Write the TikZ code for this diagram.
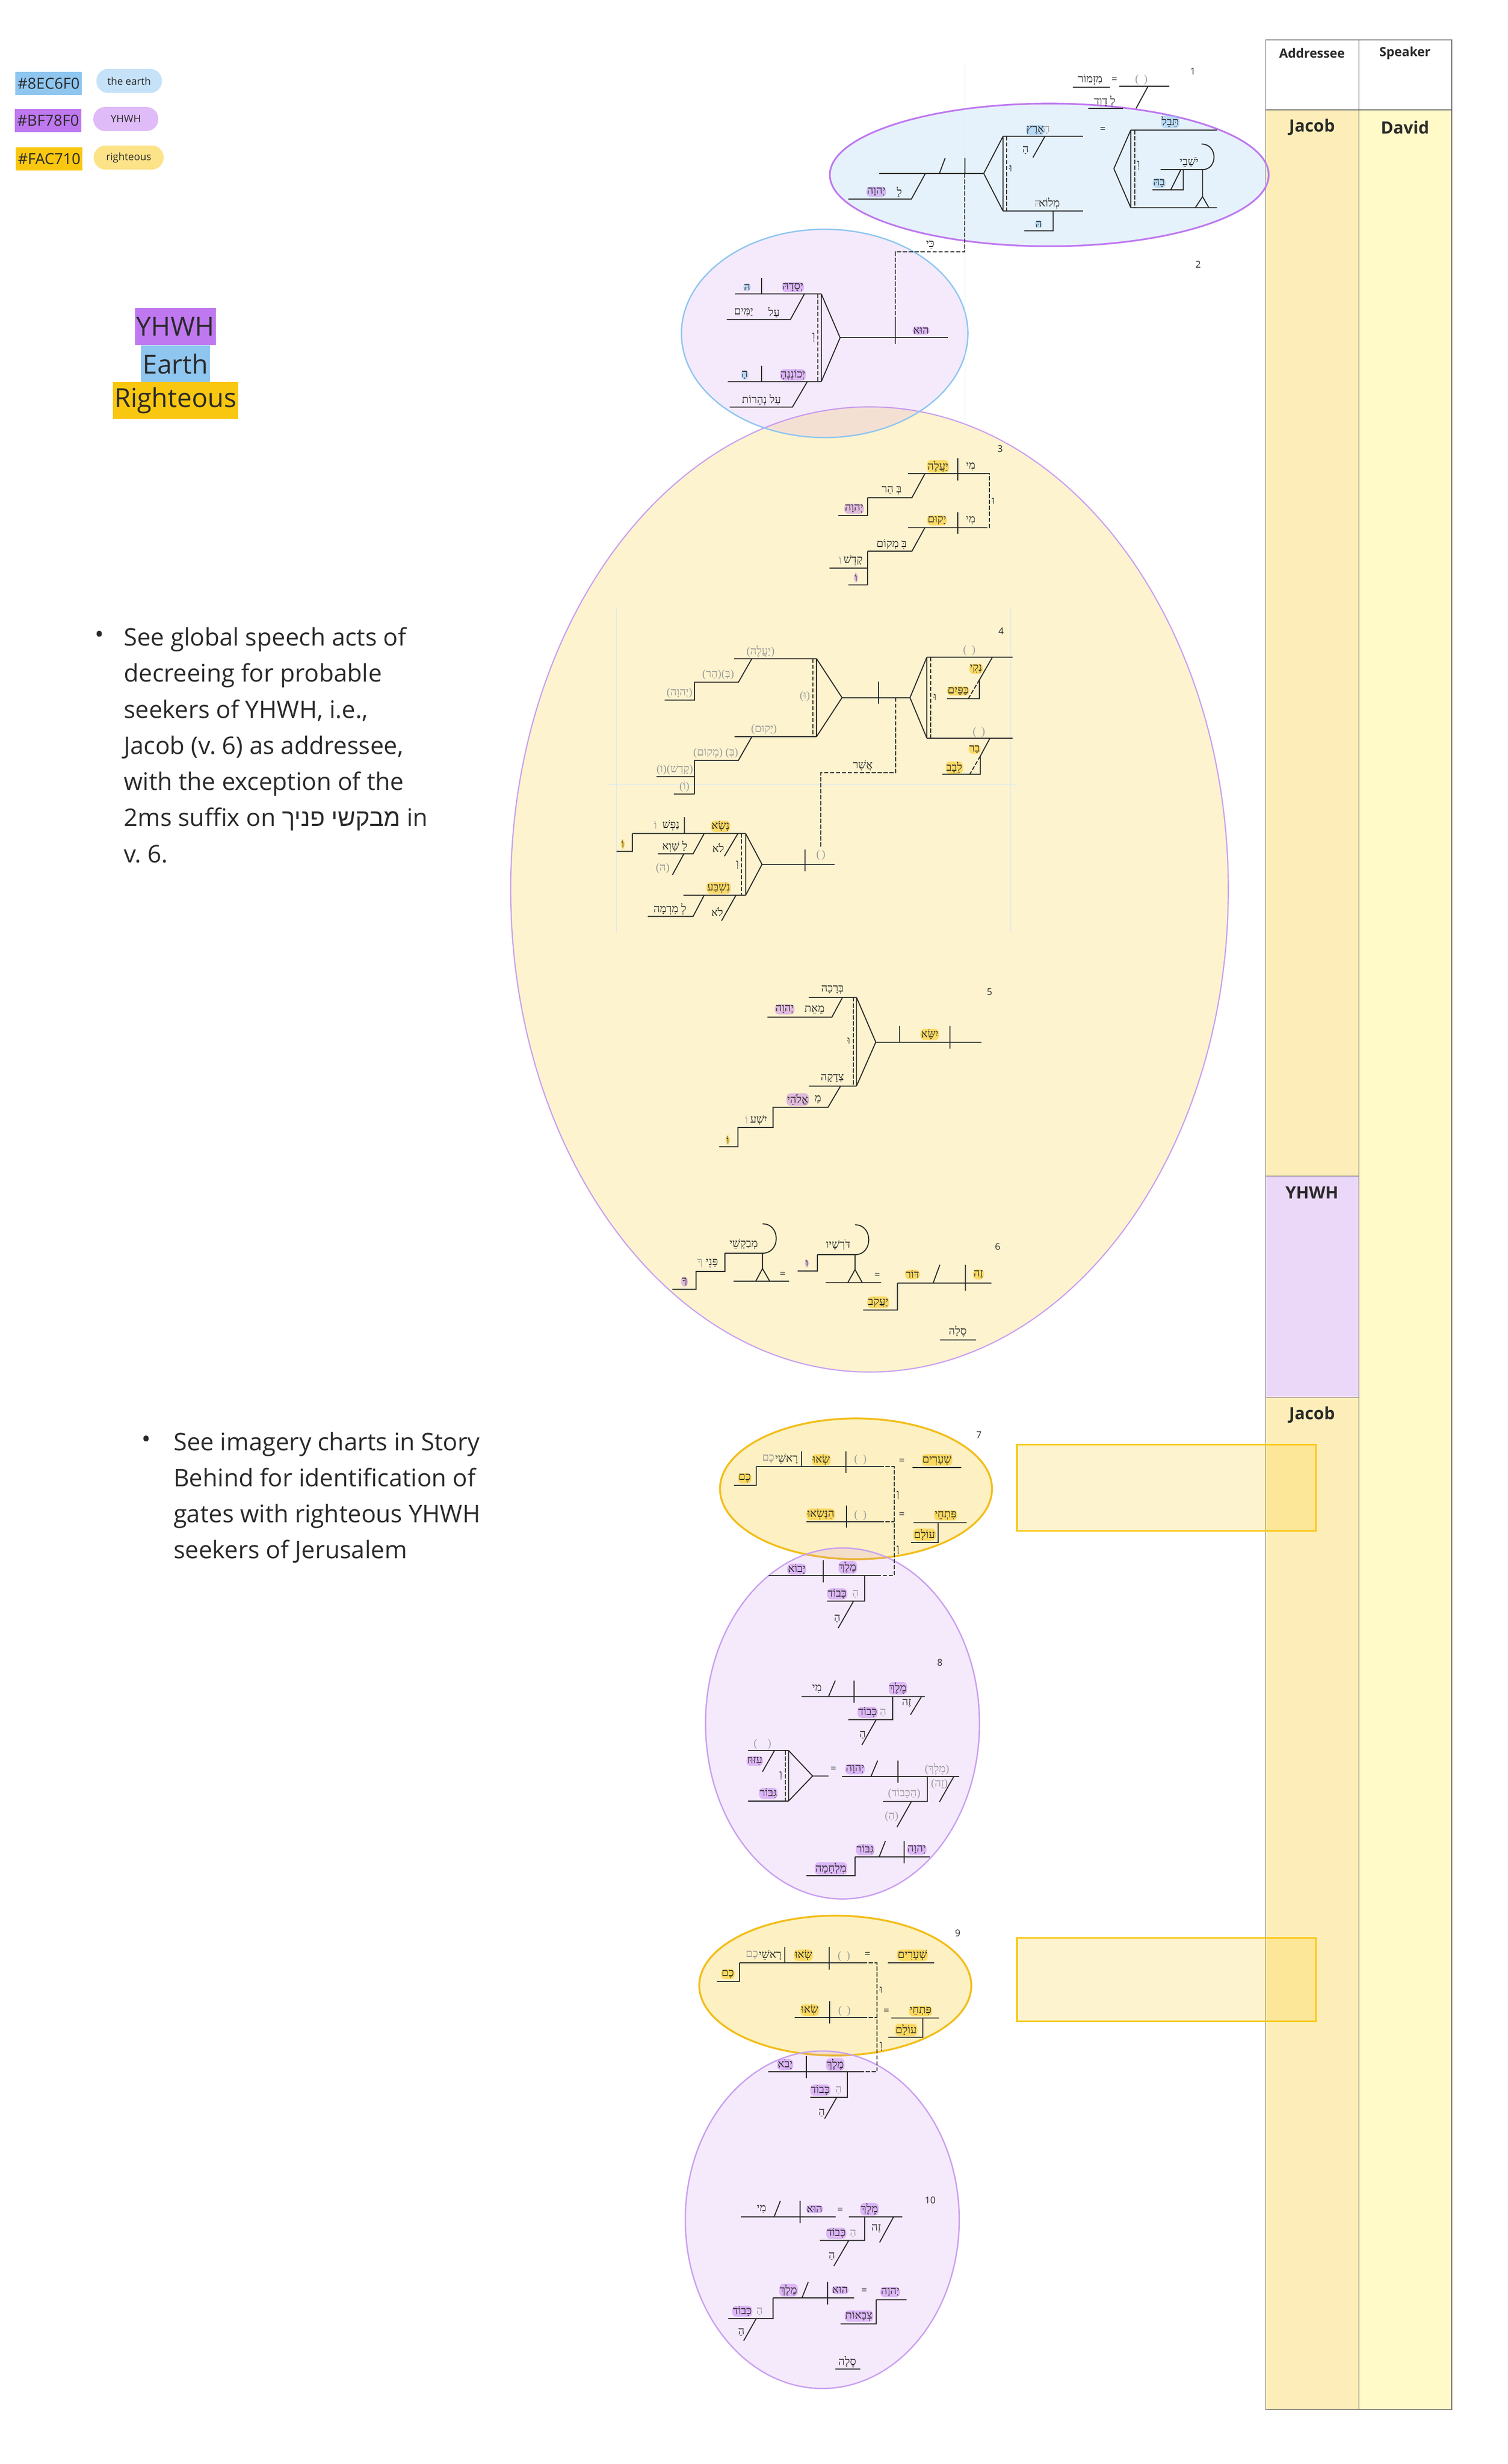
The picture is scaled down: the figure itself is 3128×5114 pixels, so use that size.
\documentclass[tikz,border=0pt]{standalone}
\usepackage{fontspec}
\setmainfont{Open Sans}
\newfontfamily\hebfont[Script=Hebrew]{Liberation Serif}
\newfontfamily\hebsans[Script=Hebrew]{Liberation Sans}
\newfontfamily\parfont{Liberation Serif}
\usetikzlibrary{positioning}
\TeXXeTstate=1
\definecolor{earthc}{HTML}{8EC6F0}
\definecolor{yhwhc}{HTML}{BF78F0}
\definecolor{rightc}{HTML}{FAC710}
\definecolor{ink}{HTML}{2A2A2A}
\definecolor{jacobc}{HTML}{FDEEB9}
\definecolor{davidc}{HTML}{FFFAC8}
\definecolor{yhwhcell}{HTML}{EBD7F8}
\definecolor{rimc}{HTML}{C9A0F0}
\definecolor{goldc}{HTML}{F2BE1A}
\newcommand{\hb}[1]{\beginR#1\endR}
\newcommand{\gap}[1]{{\parfont(\hspace{#1})}}
\newcommand{\pw}[1]{{\parfont(}\hb{#1}{\parfont)}}

\begin{document}
\begin{tikzpicture}[x=0.01cm, y=-0.01cm, line width=0.6pt, color=ink,
    heb/.style={font=\hebfont\fontsize{6.5}{7}\selectfont, inner sep=0.6pt},
    gry/.style={heb, text=black!40},
    hlp/.style={heb, fill=yhwhc, fill opacity=0.45, text opacity=1, rounded corners=2.5pt, inner sep=0.4pt},
    hlb/.style={heb, fill=earthc, fill opacity=0.5, text opacity=1, rounded corners=2.5pt, inner sep=0.4pt},
    hly/.style={heb, fill=rightc, fill opacity=0.55, text opacity=1, rounded corners=2.5pt, inner sep=0.4pt},
    eqs/.style={font=\fontsize{6}{7}\selectfont, inner sep=0.6pt},
    dsh/.style={dash pattern=on 2.5pt off 1pt},
    vnum/.style={font=\fontsize{5.5}{6.5}\selectfont, inner sep=0.5pt},
    guide/.style={draw=earthc!40, line width=0.3pt},
    head/.style={font=\bfseries\fontsize{7.5}{9}\selectfont},
    cell/.style={font=\bfseries\fontsize{10}{12}\selectfont},
    hex/.style={font=\fontsize{9}{10}\selectfont, minimum height=0.48cm, minimum width=1.38cm, inner xsep=1pt},
    pill/.style={font=\fontsize{6}{7}\selectfont, rounded corners=7pt, minimum height=0.5cm},
    key/.style={font=\fontsize{15.5}{18}\selectfont, minimum height=0.765cm, inner xsep=1pt, inner ysep=0pt},
    note/.style={font=\fontsize{14.3}{21.3}\selectfont, align=left, anchor=north west, inner sep=0pt}]
  \fill[white] (0,0) rectangle (3128,5114);
  \useasboundingbox (0,0) rectangle (3128,5114);

  \node[hex, fill=earthc] (hexE) at (101,173) {\#8EC6F0};
  \node[hex, fill=yhwhc] (hexP) at (100,250) {\#BF78F0};
  \node[hex, fill=rightc] (hexR) at (102,330) {\#FAC710};
  \node[pill, fill=earthc!50, minimum width=1.36cm] (pillE) at (268,168) {the earth};
  \node[pill, fill=yhwhc!50, minimum width=1.35cm] (pillP) at (261,247) {YHWH};
  \node[pill, fill=rightc!50, minimum width=1.45cm] (pillR) at (267,327) {righteous};

  \node[key, fill=yhwhc] (keyP) at (364,678) {YHWH};
  \node[key, fill=earthc] (keyE) at (364,755) {Earth};
  \node[key, fill=rightc] (keyR) at (364,831) {Righteous};

  \node[font=\fontsize{14.3}{16}\selectfont] (dot1) at (206,1322) {•};
  \node[note] (note1) at (256,1301) {See global speech acts of\\decreeing for probable\\seekers of YHWH, i.e.,\\Jacob (v.~6) as addressee,\\with the exception of the\\2ms suffix on {\hebsans\hb{מבקשי פניך}} in\\v.~6.};
  \node[font=\fontsize{14.3}{16}\selectfont] (dot2) at (303,2992) {•};
  \node[note] (note2) at (359,2971) {See imagery charts in Story\\Behind for identification of\\gates with righteous YHWH\\seekers of Jerusalem};

  \fill[jacobc] (2626,228) rectangle (2819,2441);
  \fill[yhwhcell] (2626,2441) rectangle (2819,2900);
  \fill[jacobc] (2626,2900) rectangle (2819,5001);
  \fill[davidc] (2819,228) rectangle (3012,5001);
  \draw[black!60, line width=0.4pt] (2626,83) rectangle (3012,5001) (2819,83) -- (2819,5001)
    (2626,228) -- (3012,228) (2626,2441) -- (2819,2441) (2626,2900) -- (2819,2900);
  \node[head] (hAddr) at (2722,110) {Addressee};
  \node[head] (hSpk) at (2915,110) {Speaker};
  \node[cell] (cJacob1) at (2722,264) {Jacob};
  \node[cell] (cDavid) at (2915,264) {David};
  \node[cell] (cYHWH) at (2722,2475) {YHWH};
  \node[cell] (cJacob2) at (2722,2936) {Jacob};
  \draw[rightc, line width=0.9pt, fill=rightc, fill opacity=0.2] (2110,2998) rectangle (2730,3177);
  \draw[rightc, line width=0.9pt, fill=rightc, fill opacity=0.2] (2110,4022) rectangle (2730,4195);

  \draw[rimc, line width=0.7pt, fill=rightc, fill opacity=0.2] (1804,1846) ellipse [x radius=7.44cm, y radius=10.01cm];
  \draw[yhwhc, line width=1pt, fill=earthc, fill opacity=0.22] (2177,363) ellipse [x radius=4.55cm, y radius=1.48cm];
  \draw[earthc, line width=0.8pt, fill=yhwhc, fill opacity=0.15] (1711,692) ellipse [x radius=2.97cm, y radius=2.16cm];
  \draw[goldc, line width=1.1pt, fill=rightc, fill opacity=0.25] (1776,3090) ellipse [x radius=2.82cm, y radius=1.46cm];
  \draw[rimc, line width=0.8pt, fill=yhwhc, fill opacity=0.15] (1748,3577) ellipse [x radius=2.84cm, y radius=3.64cm];
  \draw[goldc, line width=1.1pt, fill=rightc, fill opacity=0.25] (1733,4121) ellipse [x radius=2.82cm, y radius=1.45cm];
  \draw[rimc, line width=0.8pt, fill=yhwhc, fill opacity=0.15] (1706,4607) ellipse [x radius=2.84cm, y radius=3.50cm];

  \draw[guide] (2002,130) -- (2002,896);
  \draw[guide] (1279,1261) -- (1279,1935) (2097,1261) -- (2097,1935) (1259,1629) -- (2110,1629);

  % v1
  \node[vnum] (n1) at (2475,148) {1};
  \draw (2226,181) -- (2303,181) (2322,179) -- (2426,179) (2382,179) -- (2357,225) (2258,225) -- (2330,225);
  \node[heb] (v1miz) at (2262,166) {\hb{מִזְמוֹר}};
  \node[eqs] (v1eq0) at (2312,166) {=};
  \node[gry] (v1p0) at (2368,166) {\gap{3pt}};
  \node[heb] (v1david) at (2292,210) {\hb{לְ דָוִד}};
  \draw (1824,360) -- (2041,360) (2002,328) -- (2002,360) (1961,328) -- (1949,360)
    (1920,360) -- (1891,413) -- (1760,413);
  \draw[dsh] (2002,360) -- (2002,523) -- (1857,523) -- (1857,662);
  \node[heb] (v1la) at (1866,398) {\hb{לַ}};
  \node[hlp] (v1yhwh) at (1818,398) {\hb{יְהוָה}};
  \draw (2081,283) -- (2041,360) -- (2081,438) (2081,283) -- (2081,438);
  \draw[dsh] (2089,283) -- (2089,438);
  \node[heb] (v1w1) at (2097,350) {\hb{וּ}};
  \draw (2081,283) -- (2247,283) (2168,283) -- (2143,327) (2081,438) -- (2247,438)
    (2185,438) -- (2185,479) -- (2125,479);
  \node[hlb] (v1eretz) at (2148,270) {\hb{אָרֶץ}};
  \node[gry] (v1ha1) at (2172,270) {\hb{הָ}};
  \node[heb] (v1ha2) at (2128,312) {\hb{הָ}};
  \node[heb] (v1melo) at (2177,422) {\hb{מְלוֹא}};
  \node[gry] (v1h1) at (2153,422) {\hb{הּ}};
  \node[hlb] (v1h2) at (2155,465) {\hb{הּ}};
  \node[eqs] (v1eq1) at (2288,269) {=};
  \draw (2346,270) -- (2311,350) -- (2346,431) (2346,270) -- (2346,431)
    (2346,270) -- (2525,270) (2346,431) -- (2525,431);
  \draw[dsh] (2354,270) -- (2354,431);
  \node[heb] (v1w2) at (2362,343) {\hb{וְ}};
  \node[hlb] (v1tevel) at (2428,253) {\hb{תֵּבֵל}};
  \draw (2408,352) -- (2495,352) .. controls (2527,352) and (2527,299) .. (2493,299);
  \draw (2495,352) -- (2495,408) -- (2480,431) (2495,408) -- (2508,431);
  \node[heb] (v1yoshve) at (2467,337) {\hb{יֹשְׁבֵי}};
  \draw (2455,352) -- (2455,394) -- (2391,394) (2450,352) -- (2429,394);
  \node[hlb] (v1bah) at (2405,380) {\hb{בָהּ}};
  \node[heb] (v1ki) at (1930,508) {\hb{כִּי}};

  % v2
  \node[vnum] (n2) at (2486,549) {2};
  \draw (1743,701) -- (1967,701) (1857,662) -- (1857,714);
  \node[hlp] (v2hu) at (1911,686) {\hb{הוּא}};
  \draw (1704,610) -- (1743,701) -- (1704,792) (1704,610) -- (1704,792);
  \draw[dsh] (1697,610) -- (1697,792);
  \node[heb] (v2w) at (1688,700) {\hb{וְ}};
  \draw (1525,610) -- (1704,610) (1580,577) -- (1580,610) (1669,610) -- (1640,663) -- (1508,663);
  \node[hlp] (v2yesada) at (1645,596) {\hb{יְסָדָהּ}};
  \node[hlb] (v2h) at (1550,596) {\hb{הּ}};
  \node[heb] (v2al1) at (1606,648) {\hb{עַל}};
  \node[heb] (v2yamim) at (1543,648) {\hb{יַמִּים}};
  \draw (1510,792) -- (1704,792) (1580,759) -- (1580,792) (1675,792) -- (1644,845) -- (1514,845);
  \node[hlp] (v2yekonen) at (1645,778) {\hb{יְכוֹנְנֶהָ}};
  \node[hlb] (v2ha) at (1545,778) {\hb{הָ}};
  \node[heb] (v2nehar) at (1580,830) {\hb{עַל נְהָרוֹת}};

  % v3
  \node[vnum] (n3) at (2075,932) {3};
  \draw (1884,983) -- (2046,983) (1987,951) -- (1987,997) (1919,983) -- (1892,1033) -- (1800,1033)
    (1800,1033) -- (1800,1070) -- (1739,1070);
  \draw[dsh] (2046,983) -- (2053,983) -- (2053,1095) -- (2046,1095);
  \node[heb] (v3w) at (2061,1040) {\hb{וּ}};
  \node[heb] (v3mi1) at (2014,968) {\hb{מִי}};
  \node[hly] (v3yaale) at (1946,968) {\hb{יַעֲלֶה}};
  \node[heb] (v3behar) at (1850,1018) {\hb{בְּ הַר}};
  \node[hlp] (v3yhwh) at (1772,1056) {\hb{יְהוָה}};
  \draw (1884,1095) -- (2046,1095) (1987,1063) -- (1987,1108) (1919,1095) -- (1892,1144) -- (1800,1144)
    (1800,1144) -- (1800,1214) (1721,1179) -- (1800,1179) (1760,1214) -- (1800,1214);
  \node[heb] (v3mi2) at (2014,1080) {\hb{מִי}};
  \node[hly] (v3yakum) at (1944,1080) {\hb{יָקוּם}};
  \node[heb] (v3bimkom) at (1850,1130) {\hb{בִּ מְקוֹם}};
  \node[heb] (v3kodsh) at (1770,1163) {\hb{קָדְשׁ}};
  \node[gry] (v3o1) at (1743,1163) {\hb{וֹ}};
  \node[hlp] (v3o2) at (1776,1199) {\hb{וֹ}};

  % v4
  \node[vnum] (n4) at (2077,1310) {4};
  \draw (1523,1367) -- (1694,1367) (1560,1367) -- (1532,1416) -- (1441,1416) -- (1441,1453) -- (1379,1453);
  \node[gry] (v4yaale) at (1578,1352) {\pw{יַעֲלֶה}};
  \node[gry] (v4behar) at (1490,1400) {\pw{הַר}\pw{בְּ}};
  \node[gry] (v4yhwh) at (1410,1438) {\pw{יְהוָה}};
  \draw (1524,1529) -- (1694,1529) (1560,1529) -- (1532,1578) -- (1441,1578) -- (1441,1648)
    (1362,1612) -- (1441,1612) (1398,1648) -- (1441,1648);
  \node[gry] (v4yakum) at (1585,1514) {\pw{יָקוּם}};
  \node[gry] (v4bimkom) at (1485,1563) {\pw{מְקוֹם} \pw{בִּ}};
  \node[gry] (v4kodsh) at (1400,1597) {\pw{וֹ}\pw{קָדְשׁ}};
  \node[gry] (v4o1) at (1420,1633) {\pw{וֹ}};
  \draw (1694,1367) -- (1747,1448) -- (1694,1529) (1694,1367) -- (1694,1529);
  \draw[dsh] (1687,1367) -- (1687,1529);
  \node[gry] (v4w1) at (1670,1445) {\pw{וּ}};
  \draw (1747,1448) -- (1888,1448) (1823,1415) -- (1823,1461);
  \draw[dsh] (1858,1448) -- (1858,1604) -- (1703,1604) -- (1703,1759);
  \node[heb] (v4asher) at (1790,1589) {\hb{אֲשֶׁר}};
  \draw (1923,1364) -- (1888,1448) -- (1923,1532) (1923,1364) -- (1923,1532);
  \draw[dsh] (1931,1364) -- (1931,1532);
  \node[heb] (v4w2) at (1940,1447) {\hb{וּ}};
  \draw (1923,1364) -- (2101,1364) (2059,1364) -- (2032,1411) -- (2032,1450) -- (1965,1450);
  \draw[dsh] (2032,1411) -- (2009,1450);
  \node[gry] (v4p1) at (2011,1350) {\gap{3pt}};
  \node[hly] (v4neki) at (2025,1388) {\hb{נְקִי}};
  \node[hly] (v4kapayim) at (1988,1434) {\hb{כַּפַּיִם}};
  \draw (1923,1532) -- (2101,1532) (2054,1532) -- (2034,1569) -- (2034,1607) -- (1955,1607);
  \draw[dsh] (2034,1569) -- (2012,1607);
  \node[gry] (v4p2) at (2031,1520) {\gap{3pt}};
  \node[hly] (v4bar) at (2022,1555) {\hb{בַר}};
  \node[hly] (v4levav) at (1980,1593) {\hb{לֵבָב}};
  \draw (1581,1794) -- (1732,1794) (1670,1763) -- (1670,1808);
  \node[gry] (v4p3) at (1703,1775) {\gap{1pt}};
  \draw (1547,1730) -- (1581,1794) -- (1547,1858) (1547,1730) -- (1547,1858);
  \draw[dsh] (1538,1730) -- (1538,1858);
  \node[heb] (v4w3) at (1530,1795) {\hb{וְ}};
  \draw (1312,1730) -- (1547,1730) (1420,1696) -- (1420,1730) (1312,1730) -- (1312,1767) -- (1279,1767)
    (1531,1730) -- (1503,1777) (1461,1730) -- (1438,1772) -- (1365,1772) (1419,1772) -- (1395,1816);
  \node[hly] (v4nasa) at (1495,1715) {\hb{נָשָׂא}};
  \node[heb] (v4nafsh) at (1392,1713) {\hb{נַפְשׁ}};
  \node[gry] (v4o2) at (1360,1713) {\hb{וֹ}};
  \node[hly] (v4o3) at (1292,1752) {\hb{וֹ}};
  \node[heb] (v4lo1) at (1490,1760) {\hb{לֹא}};
  \node[heb] (v4lashav) at (1400,1757) {\hb{לַ שָּׁוְא}};
  \node[gry] (v4h) at (1375,1802) {\pw{הּ}};
  \draw (1418,1858) -- (1547,1858) (1527,1858) -- (1497,1911) (1461,1858) -- (1438,1902) -- (1344,1902);
  \node[hly] (v4nishba) at (1491,1843) {\hb{נִשְׁבַּע}};
  \node[heb] (v4lo2) at (1488,1893) {\hb{לֹא}};
  \node[heb] (v4mirma) at (1390,1887) {\hb{לְ מִרְמָה}};

  % v5
  \node[vnum] (n5) at (2053,2059) {5};
  \draw (1678,2070) -- (1777,2070) (1748,2070) -- (1726,2111) -- (1592,2111);
  \node[heb] (v5beracha) at (1727,2054) {\hb{בְּרָכָה}};
  \node[heb] (v5meet) at (1690,2095) {\hb{מֵאֵת}};
  \node[hlp] (v5yhwh) at (1628,2095) {\hb{יְהוָה}};
  \draw (1678,2254) -- (1777,2254) (1744,2254) -- (1718,2298) -- (1604,2298) -- (1604,2340) -- (1531,2340)
    -- (1531,2380) -- (1492,2380);
  \node[heb] (v5tsedaka) at (1727,2238) {\hb{צְדָקָה}};
  \node[heb] (v5me) at (1697,2282) {\hb{מֵ}};
  \node[hlp] (v5elohe) at (1655,2282) {\hb{אֱלֹהֵי}};
  \node[heb] (v5yisha) at (1574,2324) {\hb{יִשְׁע}};
  \node[gry] (v5o1) at (1549,2324) {\hb{וֹ}};
  \node[hly] (v5o2) at (1510,2366) {\hb{וֹ}};
  \draw (1777,2070) -- (1817,2163) -- (1777,2254) (1777,2070) -- (1777,2254);
  \draw[dsh] (1770,2070) -- (1770,2254);
  \node[heb] (v5w) at (1761,2160) {\hb{וּ}};
  \draw (1817,2163) -- (2036,2163) (1867,2129) -- (1867,2163) (1971,2129) -- (1971,2176);
  \node[hly] (v5yisa) at (1929,2147) {\hb{יִשָּׂא}};

  % v6
  \node[vnum] (n6) at (2070,2587) {6};
  \draw (1862,2663) -- (2057,2663) (2003,2625) -- (2003,2679) (1950,2625) -- (1936,2663)
    (1862,2663) -- (1862,2719) -- (1791,2719) (1950,2781) -- (2025,2781);
  \node[hly] (v6ze) at (2030,2645) {\hb{זֶה}};
  \node[hly] (v6dor) at (1893,2645) {\hb{דּוֹר}};
  \node[hly] (v6yaakov) at (1822,2703) {\hb{יַעֲקֹב}};
  \node[heb] (v6sela) at (1987,2763) {\hb{סֶלָה}};
  \node[eqs] (v6eq1) at (1820,2647) {=};
  \draw (1713,2662) -- (1828,2662) (1774,2604) -- (1774,2635) -- (1759,2662) (1774,2635) -- (1789,2662)
    (1696,2604) -- (1774,2604) .. controls (1812,2604) and (1812,2542) .. (1774,2542)
    (1696,2604) -- (1696,2638) -- (1655,2638);
  \node[heb] (v6dorshav) at (1739,2584) {\hb{דֹּרְשָׁיו}};
  \node[hlp] (v6w) at (1674,2622) {\hb{ו}};
  \node[eqs] (v6eq2) at (1624,2645) {=};
  \draw (1522,2659) -- (1637,2659) (1582,2601) -- (1582,2633) -- (1568,2659) (1582,2633) -- (1597,2659)
    (1504,2601) -- (1582,2601) .. controls (1620,2601) and (1620,2540) .. (1582,2540)
    (1504,2601) -- (1504,2639) -- (1444,2639) -- (1444,2676) -- (1395,2676);
  \node[heb] (v6mevakshe) at (1543,2582) {\hb{מְבַקְשֵׁי}};
  \node[heb] (v6pane) at (1477,2622) {\hb{פָּנֶי}};
  \node[gry] (v6kha1) at (1452,2622) {\hb{ךָ}};
  \node[hlp] (v6kha2) at (1420,2660) {\hb{ךָ}};

  % v7
  \node[vnum] (n7) at (2031,2978) {7};
  \draw (1569,3044) -- (1825,3044) (1755,3012) -- (1755,3057) (1663,3012) -- (1663,3044)
    (1569,3044) -- (1569,3083) -- (1523,3083) (1893,3046) -- (1994,3046);
  \draw[dsh] (1825,3044) -- (1855,3044) -- (1855,3270) -- (1825,3270) (1825,3158) -- (1855,3158);
  \node[gry] (v7p1) at (1785,3030) {\gap{3pt}};
  \node[hly] (v7seu) at (1704,3030) {\hb{שְׂאוּ}};
  \node[heb] (v7roshe) at (1632,3028) {\hb{רָאשֵׁי}};
  \node[gry] (v7khem1) at (1594,3028) {\hb{כֶם}};
  \node[hly] (v7khem2) at (1545,3068) {\hb{כֶם}};
  \node[eqs] (v7eq1) at (1871,3033) {=};
  \node[hly] (v7shearim) at (1944,3030) {\hb{שְׁעָרִים}};
  \draw (1673,3158) -- (1825,3158) (1756,3125) -- (1756,3171);
  \node[gry] (v7p2) at (1785,3145) {\gap{3pt}};
  \node[hly] (v7hinnasu) at (1703,3143) {\hb{הִנָּשְׂאוּ}};
  \node[eqs] (v7eq2) at (1871,3145) {=};
  \draw (1895,3160) -- (2006,3160) (1946,3160) -- (1946,3201) -- (1890,3201);
  \node[hly] (v7pitche) at (1962,3145) {\hb{פִּתְחֵי}};
  \node[hly] (v7olam) at (1918,3185) {\hb{עוֹלָם}};
  \node[heb] (v7w1) at (1863,3103) {\hb{וְ}};
  \node[heb] (v7w2) at (1863,3217) {\hb{וְ}};
  \draw (1595,3270) -- (1825,3270) (1708,3238) -- (1708,3284) (1794,3270) -- (1794,3323) -- (1716,3323)
    (1771,3323) -- (1739,3379);
  \node[hlp] (v7yavo) at (1653,3257) {\hb{יָבוֹא}};
  \node[hlp] (v7melekh) at (1759,3253) {\hb{מֶלֶךְ}};
  \node[hlp] (v7kavod) at (1737,3308) {\hb{כָּבוֹד}};
  \node[gry] (v7ha1) at (1775,3308) {\hb{הַ}};
  \node[heb] (v7ha2) at (1737,3359) {\hb{הַ}};

  % v8
  \node[vnum] (n8) at (1950,3451) {8};
  \draw (1663,3521) -- (1919,3521) (1772,3488) -- (1772,3534) (1733,3488) -- (1719,3521)
    (1912,3521) -- (1889,3559) (1852,3521) -- (1852,3569) -- (1760,3569) (1818,3569) -- (1788,3622);
  \node[heb] (v8mi) at (1695,3505) {\hb{מִי}};
  \node[hlp] (v8melekh) at (1863,3504) {\hb{מֶלֶךְ}};
  \node[heb] (v8ze) at (1881,3535) {\hb{זֶה}};
  \node[hlp] (v8kavod) at (1800,3554) {\hb{כָּבוֹד}};
  \node[gry] (v8ha1) at (1832,3554) {\hb{הַ}};
  \node[heb] (v8ha2) at (1790,3600) {\hb{הַ}};
  \draw (1552,3633) -- (1636,3633) (1607,3633) -- (1582,3677) (1552,3738) -- (1636,3738)
    (1636,3633) -- (1636,3738) (1636,3633) -- (1686,3686) -- (1636,3738) (1686,3686) -- (1719,3686);
  \draw[dsh] (1629,3633) -- (1629,3738);
  \node[gry] (v8p) at (1582,3620) {\gap{6pt}};
  \node[hlp] (v8ezuz) at (1566,3655) {\hb{עִזּוּז}};
  \node[hlp] (v8gibbor1) at (1594,3722) {\hb{גִּבּוֹר}};
  \node[heb] (v8w) at (1620,3685) {\hb{וְ}};
  \node[eqs] (v8eq) at (1729,3672) {=};
  \draw (1747,3687) -- (1990,3687) (1863,3654) -- (1863,3700) (1821,3654) -- (1807,3687)
    (1979,3687) -- (1949,3740) (1924,3687) -- (1924,3739) -- (1832,3739) (1891,3739) -- (1861,3792);
  \node[hlp] (v8yhwh1) at (1774,3672) {\hb{יְהוָה}};
  \node[gry] (v8melekh2) at (1944,3672) {\pw{מֶלֶךְ}};
  \node[gry] (v8ze2) at (1949,3703) {\pw{זֶה}};
  \node[gry] (v8hakavod) at (1876,3723) {\pw{הַכָּבוֹד}};
  \node[gry] (v8ha3) at (1850,3770) {\pw{הַ}};
  \draw (1774,3854) -- (1929,3854) (1876,3821) -- (1876,3867) (1837,3821) -- (1824,3854)
    (1774,3854) -- (1774,3893) -- (1673,3893);
  \node[hlp] (v8yhwh2) at (1902,3839) {\hb{יְהוָה}};
  \node[hlp] (v8gibbor2) at (1795,3839) {\hb{גִּבּוֹר}};
  \node[hlp] (v8milchama) at (1724,3878) {\hb{מִלְחָמָה}};

  % v9
  \node[vnum] (n9) at (1987,4012) {9};
  \draw (1534,4074) -- (1790,4074) (1720,4041) -- (1720,4088) (1628,4041) -- (1628,4074)
    (1534,4074) -- (1534,4113) -- (1487,4113) (1842,4074) -- (1938,4074);
  \draw[dsh] (1790,4074) -- (1820,4074) -- (1820,4300) -- (1790,4300) (1790,4187) -- (1820,4187);
  \node[gry] (v9p1) at (1751,4061) {\gap{3pt}};
  \node[hly] (v9seu1) at (1667,4058) {\hb{שְׂאוּ}};
  \node[heb] (v9roshe) at (1598,4058) {\hb{רָאשֵׁי}};
  \node[gry] (v9khem1) at (1560,4058) {\hb{כֶם}};
  \node[hly] (v9khem2) at (1510,4097) {\hb{כֶם}};
  \node[eqs] (v9eq1) at (1800,4057) {=};
  \node[hly] (v9shearim) at (1893,4058) {\hb{שְׁעָרִים}};
  \draw (1649,4187) -- (1790,4187) (1721,4154) -- (1721,4200);
  \node[gry] (v9p2) at (1752,4174) {\gap{3pt}};
  \node[hly] (v9seu2) at (1680,4172) {\hb{שְׂאוּ}};
  \node[eqs] (v9eq2) at (1839,4174) {=};
  \draw (1849,4188) -- (1948,4188) (1915,4188) -- (1915,4228) -- (1843,4228);
  \node[hly] (v9pitche) at (1910,4174) {\hb{פִּתְחֵי}};
  \node[hly] (v9olam) at (1880,4213) {\hb{עוֹלָם}};
  \node[heb] (v9w1) at (1828,4130) {\hb{וּ}};
  \node[heb] (v9w2) at (1828,4247) {\hb{וְ}};
  \draw (1594,4300) -- (1790,4300) (1673,4267) -- (1673,4313) (1758,4300) -- (1758,4353) -- (1681,4353)
    (1736,4353) -- (1711,4397);
  \node[hlp] (v9yavo) at (1629,4285) {\hb{יָבֹא}};
  \node[hlp] (v9melekh) at (1733,4285) {\hb{מֶלֶךְ}};
  \node[hlp] (v9kavod) at (1702,4338) {\hb{כָּבוֹד}};
  \node[gry] (v9ha1) at (1740,4338) {\hb{הַ}};
  \node[heb] (v9ha2) at (1705,4385) {\hb{הַ}};

  % v10
  \node[vnum] (n10) at (1930,4566) {10};
  \draw (1537,4601) -- (1734,4601) (1660,4568) -- (1660,4614) (1619,4568) -- (1606,4601)
    (1761,4601) -- (1872,4601) (1854,4601) -- (1825,4654) (1794,4601) -- (1794,4650) -- (1701,4650)
    (1761,4650) -- (1730,4703);
  \node[heb] (v10mi) at (1580,4585) {\hb{מִי}};
  \node[hlp] (v10hu1) at (1690,4585) {\hb{הוּא}};
  \node[eqs] (v10eq1) at (1743,4588) {=};
  \node[hlp] (v10melekh1) at (1804,4585) {\hb{מֶלֶךְ}};
  \node[heb] (v10ze) at (1818,4625) {\hb{זֶה}};
  \node[hlp] (v10kavod1) at (1735,4635) {\hb{כָּבוֹד}};
  \node[gry] (v10ha1) at (1770,4635) {\hb{הַ}};
  \node[heb] (v10ha2) at (1726,4683) {\hb{הַ}};
  \draw (1604,4769) -- (1772,4769) (1717,4736) -- (1717,4783) (1677,4736) -- (1664,4769)
    (1818,4773) -- (1881,4773) (1818,4773) -- (1818,4823) -- (1744,4823)
    (1604,4769) -- (1604,4812) -- (1511,4812) (1569,4812) -- (1543,4858) (1733,4917) -- (1785,4917);
  \node[hlp] (v10melekh2) at (1636,4753) {\hb{מֶלֶךְ}};
  \node[hlp] (v10hu2) at (1743,4753) {\hb{הוּא}};
  \node[eqs] (v10eq2) at (1793,4755) {=};
  \node[hlp] (v10yhwh) at (1847,4757) {\hb{יְהוָה}};
  \node[hlp] (v10tsevaot) at (1782,4807) {\hb{צְבָאוֹת}};
  \node[hlp] (v10kavod2) at (1540,4797) {\hb{כָּבוֹד}};
  \node[gry] (v10ha3) at (1576,4797) {\hb{הַ}};
  \node[heb] (v10ha4) at (1538,4840) {\hb{הַ}};
  \node[heb] (v10sela) at (1758,4902) {\hb{סֶלָה}};
\end{tikzpicture}
\end{document}
